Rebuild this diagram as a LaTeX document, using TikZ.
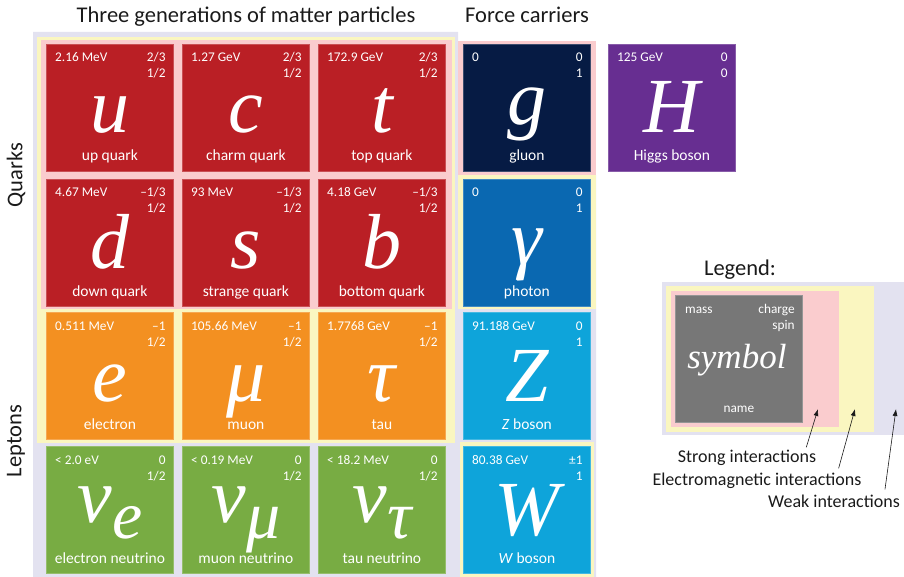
\documentclass[tikz,border=0pt]{standalone}
\usepackage{fontspec}
\setmainfont{Carlito}
\newfontfamily\symfont{Liberation Serif}
\usetikzlibrary{arrows.meta}
\definecolor{qred}{RGB}{186,31,37}
\definecolor{lorange}{RGB}{243,144,33}
\definecolor{ngreen}{RGB}{120,172,67}
\definecolor{gnavy}{RGB}{6,27,68}
\definecolor{phblue}{RGB}{10,104,177}
\definecolor{zwblue}{RGB}{14,164,218}
\definecolor{hpurple}{RGB}{103,46,145}
\definecolor{lgray}{RGB}{119,119,119}
\definecolor{strongpink}{RGB}{250,204,206}
\definecolor{emyellow}{RGB}{250,246,192}
\definecolor{weaklav}{RGB}{227,226,240}
\definecolor{ink}{RGB}{26,26,26}
\tikzset{
  pbox/.style={draw=#1!78!white, fill=#1, line width=0.8pt, minimum width=127pt,
    minimum height=127pt, inner sep=0pt, anchor=north west},
  smalltext/.style={text=white, inner sep=0pt, font=\fontsize{13.3}{14}\selectfont},
  nametext/.style={text=white, inner sep=0pt, font=\fontsize{15.5}{16}\selectfont},
  symtext/.style={text=white, inner sep=0pt, font=\symfont\itshape\fontsize{78}{80}\selectfont},
  headtext/.style={text=ink, inner sep=0pt, font=\fontsize{22.5}{24}\selectfont},
  legtext/.style={text=ink, inner sep=0pt, font=\fontsize{18}{20}\selectfont},
  arr/.style={-{Latex[length=7pt,width=5pt]}, line width=0.6pt, draw=ink},
}
% name, x, y, colour, mass, charge, spin, symbol, label
\newcommand\ptcl[9]{%
  \node[pbox=#4] (#1) at (#2,#3) {};
  \node[smalltext, anchor=base west] (#1-m) at ([xshift=9pt,yshift=-18pt]#1.north west) {#5};
  \node[smalltext, anchor=base east] (#1-q) at ([xshift=-8pt,yshift=-18pt]#1.north east) {#6};
  \node[smalltext, anchor=base east] (#1-s) at ([xshift=-8pt,yshift=-34pt]#1.north east) {#7};
  \node[symtext, anchor=base] (#1-y) at ([yshift=-89pt]#1.north) {#8};
  \node[nametext, anchor=base] (#1-n) at ([yshift=-117pt]#1.north) {#9};
}
\newcommand\nusym[1]{\smash{\raisebox{13pt}{ν}\raisebox{-3pt}{\fontsize{68}{68}\selectfont #1}}}
\begin{document}
\begin{tikzpicture}[x=1pt,y=-1pt]
\useasboundingbox (0,0) rectangle (904,577);
% interaction backgrounds
\fill[weaklav] (33,32) -- (458,32) -- (458,175) -- (596,175) -- (596,577) -- (33,577) -- cycle;
\fill[emyellow] (37,37) rectangle (455,443);
\fill[strongpink] (41,40) rectangle (452,309);
\fill[strongpink] (458,41) rectangle (596,175);
\fill[emyellow] (458,175) rectangle (596,309);
\fill[emyellow] (460,442) rectangle (594,577);
% headings
\node[headtext, anchor=base] (title) at (246,23) {Three generations of matter particles};
\node[headtext, anchor=base] (force) at (527,23) {Force carriers};
\node[headtext, rotate=90] (quarks) at (16,175) {Quarks};
\node[headtext, rotate=90] (leptons) at (16,441) {Leptons};
% quarks
\ptcl{u}{46}{44}{qred}{2.16 MeV}{2/3}{1/2}{u}{up quark}
\ptcl{c}{182}{44}{qred}{1.27 GeV}{2/3}{1/2}{c}{charm quark}
\ptcl{t}{318}{44}{qred}{172.9 GeV}{2/3}{1/2}{t}{top quark}
\ptcl{d}{46}{179}{qred}{4.67 MeV}{–1/3}{1/2}{d}{down quark}
\ptcl{s}{182}{179}{qred}{93 MeV}{–1/3}{1/2}{s}{strange quark}
\ptcl{b}{318}{179}{qred}{4.18 GeV}{–1/3}{1/2}{b}{bottom quark}
% leptons
\ptcl{e}{46}{312}{lorange}{0.511 MeV}{–1}{1/2}{e}{electron}
\ptcl{mu}{182}{312}{lorange}{105.66 MeV}{–1}{1/2}{μ}{muon}
\ptcl{tau}{318}{312}{lorange}{1.7768 GeV}{–1}{1/2}{τ}{tau}
\ptcl{nue}{46}{446}{ngreen}{< 2.0 eV}{0}{1/2}{\nusym{e}}{electron neutrino}
\ptcl{numu}{182}{446}{ngreen}{< 0.19 MeV}{0}{1/2}{\nusym{μ}}{muon neutrino}
\ptcl{nutau}{318}{446}{ngreen}{< 18.2 MeV}{0}{1/2}{\nusym{τ}}{tau neutrino}
% force carriers
\ptcl{g}{463}{44}{gnavy}{0}{0}{1}{\smash{\raisebox{8pt}{g}}}{gluon}
\ptcl{gam}{463}{179}{phblue}{0}{0}{1}{\smash{\raisebox{3pt}{γ}}}{photon}
\ptcl{Z}{463}{312}{zwblue}{91.188 GeV}{0}{1}{Z}{\textit{Z} boson}
\ptcl{W}{463}{446}{zwblue}{80.38 GeV}{±1}{1}{W}{\textit{W} boson}
\ptcl{H}{608}{44}{hpurple}{125 GeV}{0}{0}{H}{Higgs boson}
% legend
\node[headtext, anchor=base] (legtitle) at (740,276) {Legend:};
\fill[weaklav] (662,282) rectangle (904,435);
\fill[emyellow] (666,286) rectangle (874,432);
\fill[strongpink] (671,291) rectangle (839,427);
\node[pbox=lgray] (leg) at (675,295) {};
\node[smalltext, anchor=base west] (leg-m) at ([xshift=10pt,yshift=-18pt]leg.north west) {mass};
\node[smalltext, anchor=base east] (leg-q) at ([xshift=-8pt,yshift=-18pt]leg.north east) {charge};
\node[smalltext, anchor=base east] (leg-s) at ([xshift=-8pt,yshift=-34pt]leg.north east) {spin};
\node[text=white, inner sep=0pt, anchor=base, font=\symfont\itshape\fontsize{35}{36}\selectfont] (leg-y) at ([xshift=-2pt,yshift=-73pt]leg.north) {symbol};
\node[smalltext, anchor=base] (leg-n) at ([yshift=-117pt]leg.north) {name};
\node[legtext, anchor=base] (strong) at (747,462) {Strong interactions};
\node[legtext, anchor=base] (em) at (757,485) {Electromagnetic interactions};
\node[legtext, anchor=base] (weak) at (834,507) {Weak interactions};
\coordinate (tipS) at (818,409);
\coordinate (tipE) at (855,409);
\coordinate (tipW) at (896,409);
\draw[arr] ([xshift=-10pt,yshift=2pt]strong.north east) -- (tipS);
\draw[arr] ([xshift=-23pt,yshift=4pt]em.north east) -- (tipE);
\draw[arr] ([xshift=-15pt,yshift=5pt]weak.north east) -- (tipW);
\end{tikzpicture}
\end{document}
